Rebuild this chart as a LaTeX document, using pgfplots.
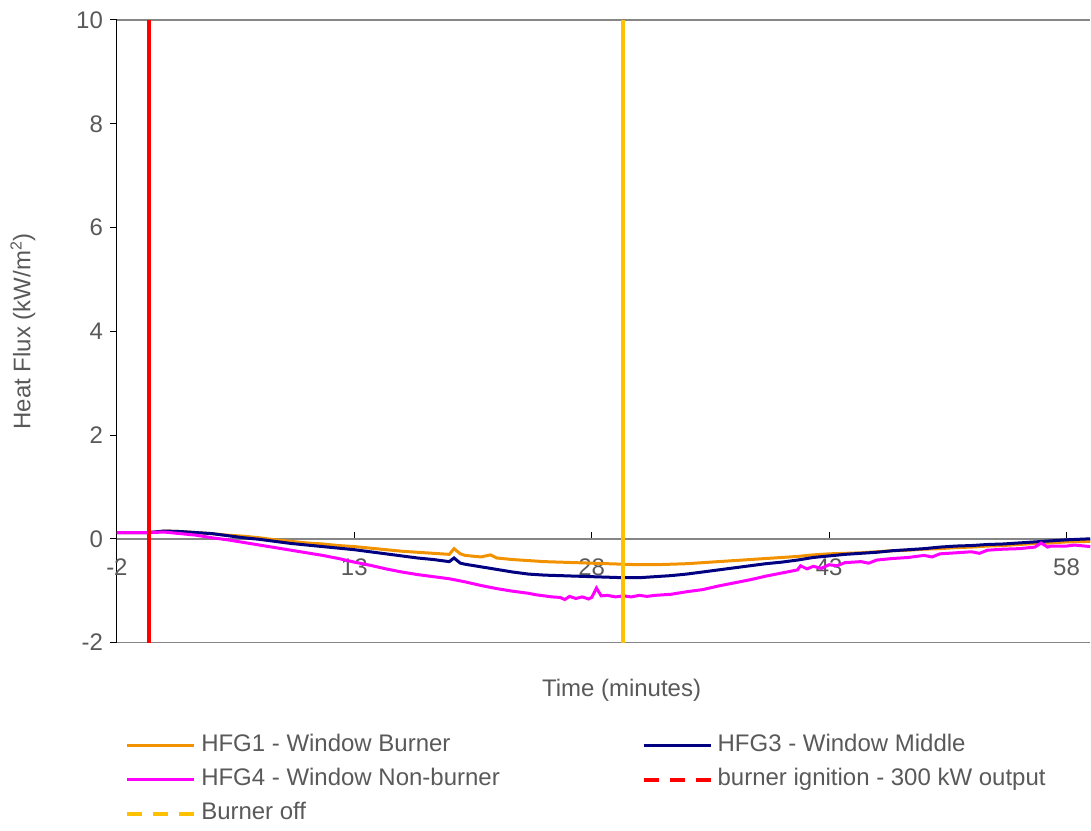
\documentclass[border=0pt]{standalone}
\usepackage{pgfplots}
\pgfplotsset{compat=1.18}
\usepackage{fontspec}
\setmainfont{Liberation Sans}
\definecolor{txt}{HTML}{595959}
\definecolor{gridc}{HTML}{868686}
\definecolor{c1}{HTML}{F39200}
\definecolor{c3}{HTML}{000080}
\definecolor{c4}{HTML}{FF00FF}
\definecolor{cr}{HTML}{FF0000}
\definecolor{cy}{HTML}{FFC000}

\pgfplotstableread{
x y
-2 0.12
0 0.12
0.5 0.13
1 0.15
2 0.14
3 0.12
4 0.10
5 0.07
6 0.05
7 0.02
8 -0.02
9 -0.05
10 -0.08
11 -0.10
12 -0.13
13 -0.15
14 -0.18
15 -0.21
16 -0.24
17 -0.26
18 -0.28
19 -0.30
19.3 -0.19
19.7 -0.29
20 -0.32
21 -0.35
21.6 -0.31
22 -0.37
23 -0.40
24 -0.42
25 -0.44
26 -0.45
27 -0.46
28 -0.47
29 -0.48
30 -0.49
31 -0.50
32 -0.50
33 -0.49
34 -0.48
35 -0.46
36 -0.44
37 -0.42
38 -0.40
39 -0.38
40 -0.36
41 -0.34
42 -0.31
43 -0.29
44 -0.28
45 -0.27
46 -0.25
47 -0.23
48 -0.22
49 -0.20
50 -0.19
51 -0.17
52 -0.16
53 -0.14
54 -0.13
55 -0.11
56 -0.09
57 -0.08
58 -0.06
59.5 -0.05
}\hfgone

\pgfplotstableread{
x y
-2 0.12
0 0.12
1 0.15
2 0.14
3 0.12
4 0.10
5 0.06
6 0.02
7 -0.01
8 -0.05
9 -0.09
10 -0.12
11 -0.15
12 -0.18
13 -0.21
14 -0.25
15 -0.29
16 -0.33
17 -0.37
18 -0.40
19 -0.44
19.3 -0.37
19.7 -0.47
20 -0.49
21 -0.54
22 -0.59
23 -0.64
24 -0.68
25 -0.70
26 -0.71
27 -0.72
28 -0.73
29 -0.74
30 -0.75
31 -0.75
32 -0.73
33 -0.71
34 -0.68
35 -0.64
36 -0.60
37 -0.56
38 -0.52
39 -0.48
40 -0.45
41 -0.41
42 -0.36
43 -0.33
44 -0.30
45 -0.28
46 -0.26
47 -0.23
48 -0.21
49 -0.19
50 -0.16
51 -0.14
52 -0.13
53 -0.11
54 -0.10
55 -0.08
56 -0.06
57 -0.04
58 -0.02
59.5 0.00
}\hfgthree

\pgfplotstableread{
x y
-2 0.12
0 0.12
1 0.13
2 0.10
3 0.07
4 0.02
5 -0.02
6 -0.07
7 -0.12
8 -0.17
9 -0.22
10 -0.27
11 -0.32
12 -0.38
13 -0.45
14 -0.51
15 -0.58
16 -0.64
17 -0.69
18 -0.73
19 -0.77
20 -0.83
21 -0.90
22 -0.96
23 -1.01
24 -1.05
24.5 -1.08
25 -1.10
25.5 -1.12
26 -1.13
26.3 -1.17
26.6 -1.11
27 -1.15
27.4 -1.12
27.8 -1.16
28 -1.13
28.3 -0.95
28.6 -1.10
29 -1.09
29.5 -1.12
30 -1.10
30.5 -1.12
31 -1.09
31.5 -1.11
32 -1.09
33 -1.07
34 -1.02
35 -0.98
36 -0.91
37 -0.85
38 -0.79
39 -0.72
40 -0.66
41 -0.60
41.2 -0.52
41.6 -0.58
42 -0.53
42.5 -0.57
43 -0.50
43.5 -0.52
44 -0.46
45 -0.44
45.5 -0.47
46 -0.41
47 -0.38
48 -0.36
49 -0.32
49.5 -0.35
50 -0.29
51 -0.27
52 -0.25
52.5 -0.28
53 -0.22
54 -0.20
55 -0.19
56 -0.16
56.4 -0.08
56.8 -0.16
57 -0.14
58 -0.14
58.5 -0.12
59.5 -0.15
}\hfgfour

\pgfplotstableread{
x y
0 -2
0 10
}\ignition

\pgfplotstableread{
x y
30 -2
30 10
}\burneroff

\begin{document}
\begin{tikzpicture}
\begin{axis}[
  scale only axis, width=487pt, height=311.5pt,
  xmin=-2, xmax=59.5, ymin=-2, ymax=10,
  axis x line=middle, axis y line=left,
  hide obscured x ticks=false, hide obscured y ticks=false,
  x axis line style={-, draw=gridc, line width=0.75pt},
  y axis line style={-, draw=black, line width=0.5pt},
  xtick={-2,13,28,43,58}, ytick={-2,0,2,4,6,8,10},
  minor tick num=0,
  major tick length=3.5pt,
  ytick align=outside, xtick align=inside,
  tick style={black, line width=0.5pt},
  tick label style={font=\fontsize{12}{14}\selectfont, text=txt, /pgf/number format/assume math mode=true},
  xticklabel style={anchor=north, yshift=-6.5pt},
  yticklabel style={anchor=east},
  extra y ticks={-2,10}, extra y tick labels={},
  extra y tick style={grid=major, major grid style={draw=gridc, line width=0.75pt}, tick style={draw=none}},
  every axis x label/.style={at={(rel axis cs:0.5185,-0.077)}, anchor=center},
  every axis y label/.style={at={(rel axis cs:-0.0965,0.5)}, rotate=90, anchor=center},
  label style={font=\fontsize{12}{14}\selectfont, text=txt},
  xlabel={Time (minutes)},
  ylabel={Heat Flux (kW/m\textsuperscript{2})},
  legend columns=2,
  legend cell align=left,
  legend style={draw=none, fill=none, font=\fontsize{12}{14}\selectfont, text=txt,
    at={(rel axis cs:0,0)}, anchor=north west, xshift=4pt, yshift=-43pt,
    inner sep=0pt, row sep=0pt,
    nodes={inner xsep=2.5pt, inner ysep=3pt, text height=8.5pt, text depth=2.5pt},
    /tikz/column 2/.style={column sep=68.5pt}},
  legend image code/.code={\draw[#1] (0pt,0pt) -- (33.5pt,0pt);},
  every axis plot/.append style={line width=1.5pt},
]
\coordinate (bl) at (rel axis cs:0,0);
\coordinate (tr) at (rel axis cs:1,1);
\addplot[c1, line width=1.5pt] table[x=x,y=y] {\hfgone};
\addlegendentry{HFG1 - Window Burner}
\addplot[c3, line width=1.5pt] table[x=x,y=y] {\hfgthree};
\addlegendentry{HFG3 - Window Middle}
\addplot[c4, line width=1.5pt] table[x=x,y=y] {\hfgfour};
\addlegendentry{HFG4 - Window Non-burner}
\addplot[cr, line width=2pt, legend image code/.code={\draw[cr, line width=2pt, dash pattern=on 7.5pt off 5.5pt] (0pt,0pt) -- (33.5pt,0pt);}] table[x=x,y=y] {\ignition};
\addlegendentry{burner ignition - 300 kW output}
\addplot[cy, line width=2pt, legend image code/.code={\draw[cy, line width=2pt, dash pattern=on 7.5pt off 5.5pt] (0pt,0pt) -- (33.5pt,0pt);}] table[x=x,y=y] {\burneroff};
\addlegendentry{Burner off}
\end{axis}
\path ([xshift=-58.5pt,yshift=-90.5pt]bl) rectangle ([yshift=10pt]tr);
\end{tikzpicture}
\end{document}
